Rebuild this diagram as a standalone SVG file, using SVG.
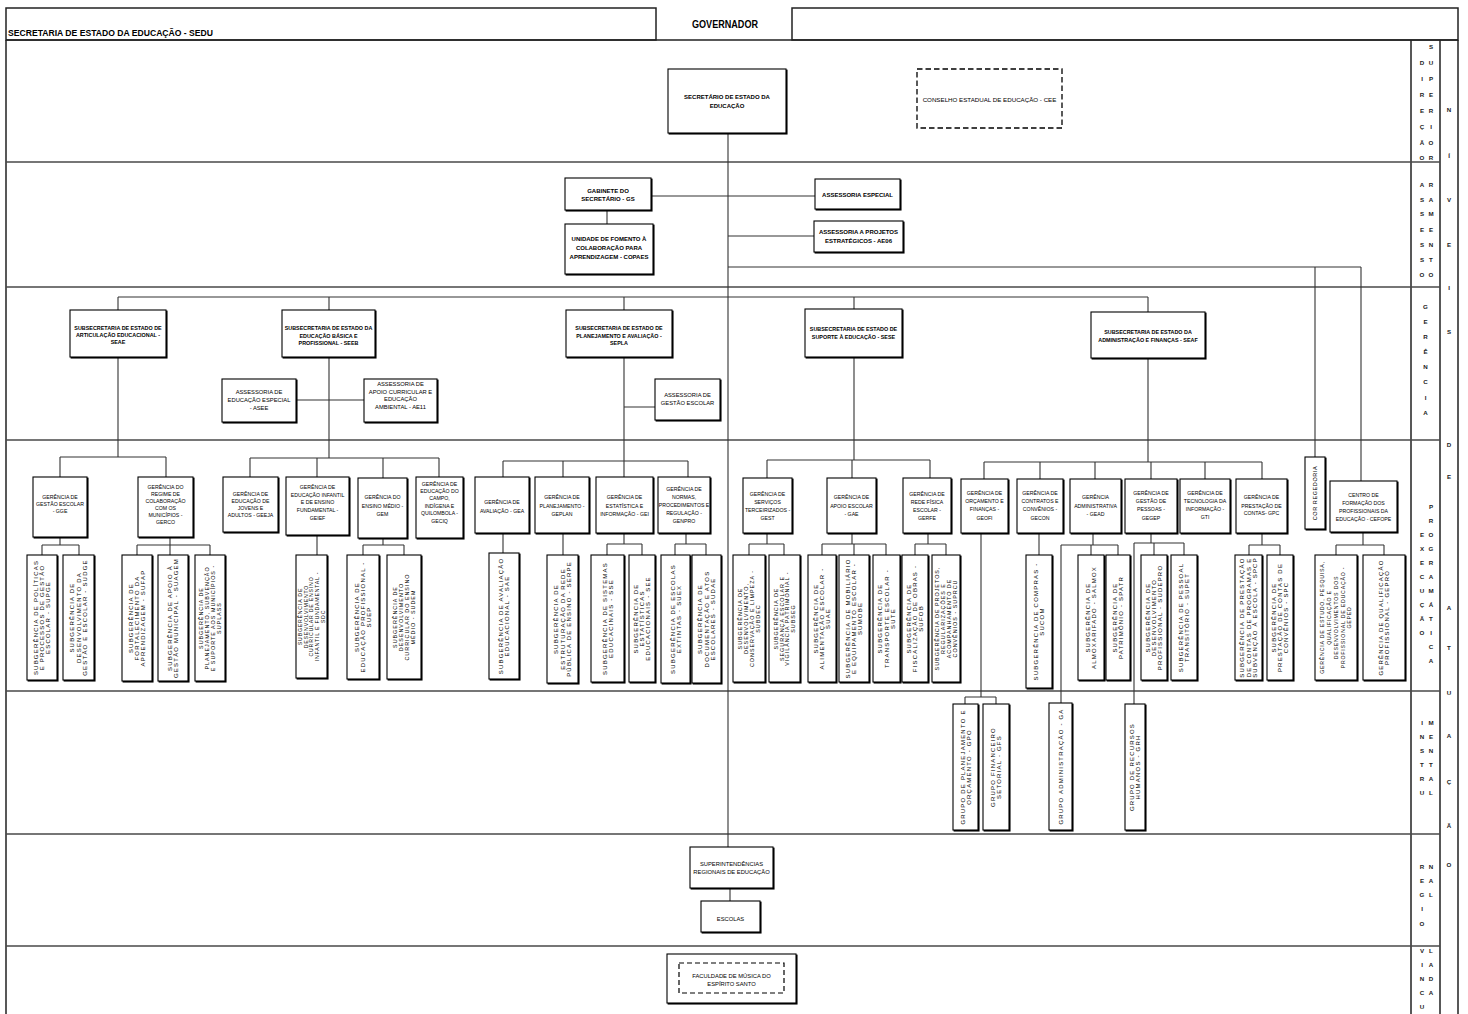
<svg xmlns="http://www.w3.org/2000/svg" width="1468" height="1014" viewBox="0 0 1468 1014">
<defs>
<filter id="sh" x="-20%" y="-20%" width="150%" height="150%"><feOffset in="SourceAlpha" dx="1.3" dy="1.3" result="o"/><feMerge><feMergeNode in="o"/><feMergeNode in="SourceGraphic"/></feMerge></filter>
<style>
.fr{fill:none;stroke:#222;stroke-width:1.5}
.bd{fill:none;stroke:#4a4a4a;stroke-width:1.6}
.c{fill:none;stroke:#333;stroke-width:1.1}
.b{fill:#fff;stroke:#000;stroke-width:1.1;filter:url(#sh)}
.d{fill:#fff;stroke:#000;stroke-width:1.3;stroke-dasharray:5.5 3}
.dn{fill:none;stroke:#000;stroke-width:1.2;stroke-dasharray:5 3}
text{font-family:"Liberation Sans",Arial,sans-serif;fill:#000}
.h{font-size:8.5px;font-weight:bold}
.g{font-size:10px;font-weight:bold}
.t1{font-size:6px;font-weight:bold;text-anchor:middle}
.t3{font-size:5.4px;font-weight:bold;text-anchor:middle}
.t4{font-size:5.2px;text-anchor:middle}
.ta{font-size:5.8px;text-anchor:middle}
.tc{font-size:6.2px;text-anchor:middle}
.v{font-size:6px;letter-spacing:1.2px;text-anchor:middle}
.v4{font-size:5.4px;letter-spacing:1px;text-anchor:middle}
.v5{font-size:5.2px;letter-spacing:0.8px;text-anchor:middle}
.vc{font-size:5.5px;letter-spacing:0.6px;text-anchor:middle}
.s{font-size:6.2px;font-weight:bold;fill:#222;text-anchor:middle}
</style>
</defs>
<rect x="0" y="0" width="1468" height="1014" fill="#fff"/>

<g id="frame">
<rect x="6" y="8" width="650" height="32" class="fr"/>
<rect x="792" y="8" width="666" height="32" class="fr"/>
<path class="fr" d="M6 40V1014M1458 40V1014M6 40H1458M1411 40V1014M1440 40V1014"/>
<path class="bd" d="M6 162H1440M6 287H1440M6 440H1440M6 691H1440M6 834H1440M6 946H1440"/>
<text x="8" y="36" class="h" textLength="205" lengthAdjust="spacingAndGlyphs">SECRETARIA DE ESTADO DA EDUCAÇÃO - SEDU</text>
</g>

<g id="n-governador"><text x="692" y="28" class="g" textLength="66" lengthAdjust="spacingAndGlyphs">GOVERNADOR</text></g>

<g id="connectors" class="c">
<path d="M728 133V847M730 888V901"/>
<path d="M651 196H815M607 210V224M728 236H814"/>
<path d="M728 267H1361M1315 267V457M1361 267V481"/>
<path d="M118 297H1148M118 297V310M329 297V310M624 297V310M854 297V309M1148 297V312"/>
<path d="M118 357V457M60 457H166M60 457V477M166 457V477"/>
<path d="M329 357V458M250 458H439M250 458V477M317 458V477M383 458V478M439 458V477M296 400H364"/>
<path d="M624 357V461M503 461H688M503 461V477M563 461V477M624 461V477M688 461V477M624 407H655"/>
<path d="M854 357V460M767 460H930M767 460V478M852 460V478M930 460V478"/>
<path d="M1148 358V462M984 462H1262M984 462V479M1040 462V479M1095 462V479M1151 462V479M1205 462V479M1262 462V479"/>
<path d="M60 537V545M42 545H79M42 545V555M79 545V555"/>
<path d="M170 537V555M137 545H210M137 545V555M210 545V555"/>
<path d="M317 535V555"/>
<path d="M383 538V545M363 545H404M363 545V555M404 545V555"/>
<path d="M503 533V553M563 533V555"/>
<path d="M624 533V544M607 544H642M607 544V555M642 544V555"/>
<path d="M686 533V544M675 544H706M675 544V555M706 544V555"/>
<path d="M767 533V544M749 544H784M749 544V555M784 544V555"/>
<path d="M852 533V544M822 544H886M822 544V555M854 544V555M886 544V555"/>
<path d="M928 533V544M915 544H946M915 544V555M946 544V555"/>
<path d="M981 533V697M965 697H996M965 697V704M996 697V704"/>
<path d="M1039 533V555"/>
<path d="M1093 533V545M1061 545H1118M1061 545V703M1091 545V555M1118 545V555"/>
<path d="M1151 533V543M1134 543H1184M1134 543V704M1154 543V555M1184 543V555"/>
<path d="M1262 533V545M1249 545H1280M1249 545V555M1280 545V555"/>
<path d="M1363 532V545M1336 545H1384M1336 545V555M1384 545V555"/>
</g>

<g id="n-secretario"><rect class="b" x="668" y="69" width="118" height="64"/><text class="t1"><tspan x="727" y="99">SECRETÁRIO DE ESTADO DA</tspan><tspan x="727" y="108">EDUCAÇÃO</tspan></text></g>
<g id="n-cee"><rect class="d" x="917" y="69" width="145" height="59"/><text class="tc" x="989.5" y="102">CONSELHO ESTADUAL DE EDUCAÇÃO - CEE</text></g>

<g id="n-gs"><rect class="b" x="565" y="178" width="86" height="32"/><text class="t1"><tspan x="608" y="192.5">GABINETE DO</tspan><tspan x="608" y="200.5">SECRETÁRIO - GS</tspan></text></g>
<g id="n-copaes"><rect class="b" x="565" y="224" width="88" height="50"/><text class="t1"><tspan x="609" y="241">UNIDADE DE FOMENTO À</tspan><tspan x="609" y="250">COLABORAÇÃO PARA</tspan><tspan x="609" y="259">APRENDIZAGEM - COPAES</tspan></text></g>
<g id="n-ae"><rect class="b" x="815" y="179" width="85" height="30"/><text class="t1" x="857.5" y="196.5">ASSESSORIA ESPECIAL</text></g>
<g id="n-ae06"><rect class="b" x="814" y="221" width="89" height="31"/><text class="t1"><tspan x="858.5" y="234">ASSESSORIA A PROJETOS</tspan><tspan x="858.5" y="243">ESTRATÉGICOS - AE06</tspan></text></g>

<g id="n-seae"><rect class="b" x="70" y="310" width="96" height="47"/><text class="t3"><tspan x="118" y="330">SUBSECRETARIA DE ESTADO DE</tspan><tspan x="118" y="337">ARTICULAÇÃO EDUCACIONAL -</tspan><tspan x="118" y="344">SEAE</tspan></text></g>
<g id="n-seeb"><rect class="b" x="282" y="310" width="93" height="47"/><text class="t3"><tspan x="328.5" y="330">SUBSECRETARIA DE ESTADO DA</tspan><tspan x="328.5" y="337.5">EDUCAÇÃO BÁSICA E</tspan><tspan x="328.5" y="345">PROFISSIONAL - SEEB</tspan></text></g>
<g id="n-sepla"><rect class="b" x="566" y="310" width="106" height="47"/><text class="t3"><tspan x="619" y="330">SUBSECRETARIA DE ESTADO DE</tspan><tspan x="619" y="337.5">PLANEJAMENTO E AVALIAÇÃO -</tspan><tspan x="619" y="345">SEPLA</tspan></text></g>
<g id="n-sese"><rect class="b" x="805" y="309" width="97" height="48"/><text class="t3"><tspan x="853.5" y="331">SUBSECRETARIA DE ESTADO DE</tspan><tspan x="853.5" y="339">SUPORTE À EDUCAÇÃO - SESE</tspan></text></g>
<g id="n-seaf"><rect class="b" x="1091" y="312" width="114" height="46"/><text class="t3"><tspan x="1148" y="334">SUBSECRETARIA DE ESTADO DA</tspan><tspan x="1148" y="342">ADMINISTRAÇÃO E FINANÇAS - SEAF</tspan></text></g>
<g id="n-asee"><rect class="b" x="222" y="379" width="74" height="43"/><text class="ta"><tspan x="259" y="394">ASSESSORIA DE</tspan><tspan x="259" y="402">EDUCAÇÃO ESPECIAL</tspan><tspan x="259" y="409.5">- ASEE</tspan></text></g>
<g id="n-ae11"><rect class="b" x="364" y="379" width="73" height="43"/><text class="ta"><tspan x="400.5" y="386">ASSESSORIA DE</tspan><tspan x="400.5" y="393.5">APOIO CURRICULAR E</tspan><tspan x="400.5" y="401">EDUCAÇÃO</tspan><tspan x="400.5" y="408.5">AMBIENTAL - AE11</tspan></text></g>
<g id="n-age"><rect class="b" x="655" y="379" width="65" height="41"/><text class="ta"><tspan x="687.5" y="397">ASSESSORIA DE</tspan><tspan x="687.5" y="405">GESTÃO ESCOLAR</tspan></text></g>

<g id="n-gge"><rect class="b" x="33" y="477" width="54" height="60"/><text class="t4"><tspan x="60" y="499">GERÊNCIA DE</tspan><tspan x="60" y="506">GESTÃO ESCOLAR</tspan><tspan x="60" y="513">- GGE</tspan></text></g>
<g id="n-gerco"><rect class="b" x="138" y="477" width="55" height="60"/><text class="t4"><tspan x="165.5" y="489">GERÊNCIA DO</tspan><tspan x="165.5" y="496">REGIME DE</tspan><tspan x="165.5" y="503">COLABORAÇÃO</tspan><tspan x="165.5" y="510">COM OS</tspan><tspan x="165.5" y="517">MUNICÍPIOS -</tspan><tspan x="165.5" y="524">GERCO</tspan></text></g>
<g id="n-geeja"><rect class="b" x="223" y="477" width="55" height="55"/><text class="t4"><tspan x="250.5" y="496">GERÊNCIA DE</tspan><tspan x="250.5" y="503">EDUCAÇÃO DE</tspan><tspan x="250.5" y="510">JOVENS E</tspan><tspan x="250.5" y="517">ADULTOS - GEEJA</tspan></text></g>
<g id="n-geief"><rect class="b" x="286" y="477" width="63" height="58"/><text class="t4"><tspan x="317.5" y="489">GERÊNCIA DE</tspan><tspan x="317.5" y="496.5">EDUCAÇÃO INFANTIL</tspan><tspan x="317.5" y="504">E DE ENSINO</tspan><tspan x="317.5" y="512">FUNDAMENTAL -</tspan><tspan x="317.5" y="520">GEIEF</tspan></text></g>
<g id="n-gem"><rect class="b" x="358" y="478" width="49" height="60"/><text class="t4"><tspan x="382.5" y="499">GERÊNCIA DO</tspan><tspan x="382.5" y="508">ENSINO MÉDIO -</tspan><tspan x="382.5" y="516">GEM</tspan></text></g>
<g id="n-geciq"><rect class="b" x="416" y="477" width="47" height="61"/><text class="t4"><tspan x="439.5" y="486">GERÊNCIA DE</tspan><tspan x="439.5" y="493">EDUCAÇÃO DO</tspan><tspan x="439.5" y="500">CAMPO,</tspan><tspan x="439.5" y="508">INDÍGENA E</tspan><tspan x="439.5" y="515">QUILOMBOLA -</tspan><tspan x="439.5" y="523">GECIQ</tspan></text></g>
<g id="n-gea"><rect class="b" x="475" y="477" width="54" height="56"/><text class="t4"><tspan x="502" y="504">GERÊNCIA DE</tspan><tspan x="502" y="513">AVALIAÇÃO - GEA</tspan></text></g>
<g id="n-geplan"><rect class="b" x="535" y="477" width="54" height="56"/><text class="t4"><tspan x="562" y="499">GERÊNCIA DE</tspan><tspan x="562" y="508">PLANEJAMENTO -</tspan><tspan x="562" y="516">GEPLAN</tspan></text></g>
<g id="n-gei"><rect class="b" x="596" y="477" width="57" height="56"/><text class="t4"><tspan x="624.5" y="499">GERÊNCIA DE</tspan><tspan x="624.5" y="508">ESTATÍSTICA E</tspan><tspan x="624.5" y="516">INFORMAÇÃO - GEI</tspan></text></g>
<g id="n-genpro"><rect class="b" x="658" y="477" width="52" height="56"/><text class="t4"><tspan x="684" y="491">GERÊNCIA DE</tspan><tspan x="684" y="499">NORMAS,</tspan><tspan x="684" y="507">PROCEDIMENTOS E</tspan><tspan x="684" y="515">REGULAÇÃO -</tspan><tspan x="684" y="523">GENPRO</tspan></text></g>
<g id="n-gest"><rect class="b" x="743" y="478" width="49" height="55"/><text class="t4"><tspan x="767.5" y="496">GERÊNCIA DE</tspan><tspan x="767.5" y="504">SERVIÇOS</tspan><tspan x="767.5" y="512">TERCEIRIZADOS -</tspan><tspan x="767.5" y="520">GEST</tspan></text></g>
<g id="n-gae"><rect class="b" x="827" y="478" width="49" height="55"/><text class="t4"><tspan x="851.5" y="499">GERÊNCIA DE</tspan><tspan x="851.5" y="508">APOIO ESCOLAR</tspan><tspan x="851.5" y="516">- GAE</tspan></text></g>
<g id="n-gerfe"><rect class="b" x="903" y="478" width="48" height="55"/><text class="t4"><tspan x="927" y="496">GERÊNCIA DE</tspan><tspan x="927" y="504">REDE FÍSICA</tspan><tspan x="927" y="512">ESCOLAR -</tspan><tspan x="927" y="520">GERFE</tspan></text></g>
<g id="n-geofi"><rect class="b" x="961" y="479" width="47" height="54"/><text class="t4"><tspan x="984.5" y="495">GERÊNCIA DE</tspan><tspan x="984.5" y="503">ORÇAMENTO E</tspan><tspan x="984.5" y="511">FINANÇAS -</tspan><tspan x="984.5" y="520">GEOFI</tspan></text></g>
<g id="n-gecon"><rect class="b" x="1017" y="479" width="46" height="54"/><text class="t4"><tspan x="1040" y="495">GERÊNCIA DE</tspan><tspan x="1040" y="503">CONTRATOS E</tspan><tspan x="1040" y="511">CONVÊNIOS -</tspan><tspan x="1040" y="520">GECON</tspan></text></g>
<g id="n-gead"><rect class="b" x="1070" y="479" width="51" height="54"/><text class="t4"><tspan x="1095.5" y="499">GERÊNCIA</tspan><tspan x="1095.5" y="508">ADMINISTRATIVA</tspan><tspan x="1095.5" y="516">- GEAD</tspan></text></g>
<g id="n-gegep"><rect class="b" x="1125" y="479" width="52" height="54"/><text class="t4"><tspan x="1151" y="495">GERÊNCIA DE</tspan><tspan x="1151" y="503">GESTÃO DE</tspan><tspan x="1151" y="511">PESSOAS -</tspan><tspan x="1151" y="520">GEGEP</tspan></text></g>
<g id="n-gti"><rect class="b" x="1180" y="479" width="50" height="54"/><text class="t4"><tspan x="1205" y="495">GERÊNCIA DE</tspan><tspan x="1205" y="503">TECNOLOGIA DA</tspan><tspan x="1205" y="511">INFORMAÇÃO -</tspan><tspan x="1205" y="519">GTI</tspan></text></g>
<g id="n-gpc"><rect class="b" x="1236" y="479" width="51" height="54"/><text class="t4"><tspan x="1261.5" y="499">GERÊNCIA DE</tspan><tspan x="1261.5" y="508">PRESTAÇÃO DE</tspan><tspan x="1261.5" y="515">CONTAS- GPC</tspan></text></g>
<g id="n-corregedoria"><rect class="b" x="1305" y="457" width="20" height="72"/><text class="vc" transform="translate(1315 493) rotate(-90)" x="0" y="2">COR REGEDORIA</text></g>
<g id="n-cefope"><rect class="b" x="1330" y="481" width="67" height="51"/><text class="t4"><tspan x="1363.5" y="497">CENTRO DE</tspan><tspan x="1363.5" y="505">FORMAÇÃO DOS</tspan><tspan x="1363.5" y="513">PROFISSIONAIS DA</tspan><tspan x="1363.5" y="521">EDUCAÇÃO - CEFOPE</tspan></text></g>

<g id="n-supge"><rect class="b" x="27" y="555" width="30" height="125"/><text class="v" transform="translate(42 617.5) rotate(-90)"><tspan x="0" y="-4.2">SUBGERÊNCIA DE POLÍTICAS</tspan><tspan x="0" y="2.1">E PROCESSOS DE GESTÃO</tspan><tspan x="0" y="8.4">ESCOLAR - SUPGE</tspan></text></g>
<g id="n-sudge"><rect class="b" x="63" y="555" width="31" height="125"/><text class="v" transform="translate(78.5 617.5) rotate(-90)"><tspan x="0" y="-4.2">SUBGERÊNCIA DE</tspan><tspan x="0" y="2.1">DESENVOLVIMENTO DA</tspan><tspan x="0" y="8.4">GESTÃO E ESCOLAR - SUDGE</tspan></text></g>
<g id="n-sufap"><rect class="b" x="122" y="555" width="30" height="126"/><text class="v" transform="translate(137 618) rotate(-90)"><tspan x="0" y="-4.2">SUBGERÊNCIA DE</tspan><tspan x="0" y="2.1">FORTALECIMENTO DA</tspan><tspan x="0" y="8.4">APRENDIZAGEM - SUFAP</tspan></text></g>
<g id="n-suagem"><rect class="b" x="158" y="555" width="30" height="126"/><text class="v" transform="translate(173 618) rotate(-90)"><tspan x="0" y="-1">SUBGERÊNCIA DE APOIO À</tspan><tspan x="0" y="5.3">GESTÃO MUNICIPAL - SUAGEM</tspan></text></g>
<g id="n-suplass"><rect class="b" x="195" y="555" width="30" height="126"/><text class="v4" transform="translate(210 618) rotate(-90)"><tspan x="0" y="-6.8">SUBGERÊNCIA DE</tspan><tspan x="0" y="-1">PLANEJAMENTO, SUBVENÇÃO</tspan><tspan x="0" y="4.8">E SUPORTE AOS MUNICÍPIOS -</tspan><tspan x="0" y="10.6">SUPLASS</tspan></text></g>
<g id="n-sdc"><rect class="b" x="296" y="555" width="31" height="123"/><text class="v5" transform="translate(311.5 616.5) rotate(-90)"><tspan x="0" y="-9.4">SUBGERÊNCIA DE</tspan><tspan x="0" y="-3.8">DESENVOLVIMENTO</tspan><tspan x="0" y="1.8">CURRICULAR DE ENSINO</tspan><tspan x="0" y="7.4">INFANTIL E FUNDAMENTAL -</tspan><tspan x="0" y="13">SDC</tspan></text></g>
<g id="n-suep"><rect class="b" x="347" y="555" width="32" height="124"/><text class="v" transform="translate(363 617) rotate(-90)"><tspan x="0" y="-4.2">SUBGERÊNCIA DE</tspan><tspan x="0" y="2.1">EDUCAÇÃO PROFISSIONAL -</tspan><tspan x="0" y="8.4">SUEP</tspan></text></g>
<g id="n-sudem"><rect class="b" x="387" y="555" width="34" height="124"/><text class="v4" transform="translate(404 617) rotate(-90)"><tspan x="0" y="-6.8">SUBGERÊNCIA DE</tspan><tspan x="0" y="-1">DESENVOLVIMENTO</tspan><tspan x="0" y="4.8">CURRICULAR DO ENSINO</tspan><tspan x="0" y="10.6">MÉDIO - SUDEM</tspan></text></g>
<g id="n-sae"><rect class="b" x="489" y="553" width="30" height="126"/><text class="v" transform="translate(504 616) rotate(-90)"><tspan x="0" y="-1">SUBGERÊNCIA DE AVALIAÇÃO</tspan><tspan x="0" y="5.3">EDUCACIONAL - SAE</tspan></text></g>
<g id="n-serpe"><rect class="b" x="547" y="555" width="31" height="128"/><text class="v" transform="translate(562.5 619) rotate(-90)"><tspan x="0" y="-4.2">SUBGERÊNCIA DE</tspan><tspan x="0" y="2.1">ESTRUTURAÇÃO DA REDE</tspan><tspan x="0" y="8.4">PÚBLICA DE ENSINO - SERPE</tspan></text></g>
<g id="n-sse"><rect class="b" x="591" y="555" width="33" height="127"/><text class="v" transform="translate(607.5 618.5) rotate(-90)"><tspan x="0" y="-1">SUBGERÊNCIA DE SISTEMAS</tspan><tspan x="0" y="5.3">EDUCACINAIS - SSE</tspan></text></g>
<g id="n-see"><rect class="b" x="629" y="555" width="26" height="127"/><text class="v" transform="translate(642 618.5) rotate(-90)"><tspan x="0" y="-4.2">SUBGERÊNCIA DE</tspan><tspan x="0" y="2.1">ESTATÍSTICAS</tspan><tspan x="0" y="8.4">EDUCACIONAIS - SEE</tspan></text></g>
<g id="n-suex"><rect class="b" x="661" y="555" width="29" height="128"/><text class="v" transform="translate(675.5 619) rotate(-90)"><tspan x="0" y="-1">SUBGERÊNCIA DE ESCOLAS</tspan><tspan x="0" y="5.3">EXTINTAS - SUEX</tspan></text></g>
<g id="n-sudae"><rect class="b" x="692" y="555" width="29" height="128"/><text class="v" transform="translate(706.5 619) rotate(-90)"><tspan x="0" y="-4.2">SUBGERÊNCIA DE</tspan><tspan x="0" y="2.1">DOCUMENTAÇÃO E ATOS</tspan><tspan x="0" y="8.4">ESCOLARES - SUDAE</tspan></text></g>
<g id="n-subdec"><rect class="b" x="733" y="555" width="32" height="127"/><text class="v4" transform="translate(749 618.5) rotate(-90)"><tspan x="0" y="-6.8">SUBGERÊNCIA DE</tspan><tspan x="0" y="-1">DESENVOLVIMENTO,</tspan><tspan x="0" y="4.8">CONSERVAÇÃO E LIMPEZA -</tspan><tspan x="0" y="10.6">SUBDEC</tspan></text></g>
<g id="n-subseg"><rect class="b" x="769" y="555" width="31" height="127"/><text class="v4" transform="translate(784.5 618.5) rotate(-90)"><tspan x="0" y="-6.8">SUBGERÊNCIA DE</tspan><tspan x="0" y="-1">SEGURANÇA ESCOLAR E</tspan><tspan x="0" y="4.8">VIGILÂNCIA PATRIMONIAL -</tspan><tspan x="0" y="10.6">SUBSEG</tspan></text></g>
<g id="n-suae"><rect class="b" x="808" y="555" width="28" height="127"/><text class="v" transform="translate(822 618.5) rotate(-90)"><tspan x="0" y="-4.2">SUBGERÊNCIA DE</tspan><tspan x="0" y="2.1">ALIMENTAÇÃO ESCOLAR -</tspan><tspan x="0" y="8.4">SUAE</tspan></text></g>
<g id="n-sumobe"><rect class="b" x="839" y="555" width="30" height="127"/><text class="v" transform="translate(854 618.5) rotate(-90)"><tspan x="0" y="-4.2">SUBGERÊNCIA DE MOBILIÁRIO</tspan><tspan x="0" y="2.1">E EQUIPAMENTO ESCOLAR -</tspan><tspan x="0" y="8.4">SUMOBE</tspan></text></g>
<g id="n-sute"><rect class="b" x="873" y="555" width="27" height="127"/><text class="v" transform="translate(886.5 618.5) rotate(-90)"><tspan x="0" y="-4.2">SUBGERÊNCIA DE</tspan><tspan x="0" y="2.1">TRANSPORTE ESCOLAR -</tspan><tspan x="0" y="8.4">SUTE</tspan></text></g>
<g id="n-sufob"><rect class="b" x="902" y="555" width="26" height="127"/><text class="v" transform="translate(915 618.5) rotate(-90)"><tspan x="0" y="-4.2">SUBGERÊNCIA DE</tspan><tspan x="0" y="2.1">FISCALIZAÇÃO DE OBRAS -</tspan><tspan x="0" y="8.4">SUFOB</tspan></text></g>
<g id="n-suprcu"><rect class="b" x="932" y="555" width="28" height="127"/><text class="v4" transform="translate(946 618.5) rotate(-90)"><tspan x="0" y="-6.8">SUBGERÊNCIA DE PROJETOS,</tspan><tspan x="0" y="-1">REGULARIZAÇÕES E</tspan><tspan x="0" y="4.8">ACOMPANHAMENTO DE</tspan><tspan x="0" y="10.6">CONVÊNIOS - SUPRCU</tspan></text></g>
<g id="n-sucom"><rect class="b" x="1026" y="555" width="26" height="133"/><text class="v" transform="translate(1039 621.5) rotate(-90)"><tspan x="0" y="-1">SUBGERÊNCIA DE COMPRAS -</tspan><tspan x="0" y="5.3">SUCOM</tspan></text></g>
<g id="n-salmox"><rect class="b" x="1078" y="555" width="26" height="125"/><text class="v" transform="translate(1091 617.5) rotate(-90)"><tspan x="0" y="-1">SUBGERÊNCIA DE</tspan><tspan x="0" y="5.3">ALMOXARIFADO - SALMOX</tspan></text></g>
<g id="n-spatr"><rect class="b" x="1106" y="555" width="24" height="125"/><text class="v" transform="translate(1118 617.5) rotate(-90)"><tspan x="0" y="-1">SUBGERÊNCIA DE</tspan><tspan x="0" y="5.3">PATRIMÔNIO - SPATR</tspan></text></g>
<g id="n-sudepro"><rect class="b" x="1141" y="555" width="26" height="125"/><text class="v" transform="translate(1154 617.5) rotate(-90)"><tspan x="0" y="-4.2">SUBGERÊNCIA DE</tspan><tspan x="0" y="2.1">DESENVOLVIMENTO</tspan><tspan x="0" y="8.4">PROFISSIONAL - SUDEPRO</tspan></text></g>
<g id="n-supet"><rect class="b" x="1171" y="555" width="26" height="125"/><text class="v" transform="translate(1184 617.5) rotate(-90)"><tspan x="0" y="-1">SUBGERÊNCIA DE PESSOAL</tspan><tspan x="0" y="5.3">TRANSITÓRIO - SUPET</tspan></text></g>
<g id="n-spcp"><rect class="b" x="1235" y="555" width="27" height="125"/><text class="v" transform="translate(1248.5 617.5) rotate(-90)"><tspan x="0" y="-4.2">SUBGERÊNCIA DE PRESTAÇÃO</tspan><tspan x="0" y="2.1">DE CONTAS DE PROGRAMAS E</tspan><tspan x="0" y="8.4">SUBVENÇÃO À ESCOLA - SPCP</tspan></text></g>
<g id="n-spc"><rect class="b" x="1267" y="555" width="26" height="125"/><text class="v" transform="translate(1280 617.5) rotate(-90)"><tspan x="0" y="-4.2">SUBGERÊNCIA DE</tspan><tspan x="0" y="2.1">PRESTAÇÃO DE CONTAS DE</tspan><tspan x="0" y="8.4">CONVÊNIOS - SPC</tspan></text></g>
<g id="n-geped"><rect class="b" x="1315" y="555" width="42" height="125"/><text class="v5" transform="translate(1336 617.5) rotate(-90)"><tspan x="0" y="-11.8">GERÊNCIA DE ESTUDO, PESQUISA,</tspan><tspan x="0" y="-5">QUALIFICAÇÃO E</tspan><tspan x="0" y="1.8">DESENVOLVIMENTOS DOS</tspan><tspan x="0" y="8.6">PROFISSIONAL DE EDUCAÇÃO -</tspan><tspan x="0" y="15.4">GEPED</tspan></text></g>
<g id="n-gepro"><rect class="b" x="1363" y="555" width="42" height="125"/><text class="v" transform="translate(1384 617.5) rotate(-90)"><tspan x="0" y="-1">GERÊNCIA DE QUALIFICAÇÃO</tspan><tspan x="0" y="5.3">PROFISSIONAL - GEPRO</tspan></text></g>

<g id="n-gpo"><rect class="b" x="953" y="704" width="25" height="126"/><text class="v" transform="translate(965.5 767) rotate(-90)"><tspan x="0" y="-1">GRUPO DE PLANEJAMENTO E</tspan><tspan x="0" y="5.3">ORÇAMENTO - GPO</tspan></text></g>
<g id="n-gfs"><rect class="b" x="983" y="704" width="26" height="126"/><text class="v" transform="translate(996 767) rotate(-90)"><tspan x="0" y="-1">GRUPO FINANCEIRO</tspan><tspan x="0" y="5.3">SETORIAL - GFS</tspan></text></g>
<g id="n-ga"><rect class="b" x="1049" y="703" width="23" height="127"/><text class="v" transform="translate(1060.5 766.5) rotate(-90)" x="0" y="2.2">GRUPO ADMINISTRAÇÃO - GA</text></g>
<g id="n-grh"><rect class="b" x="1125" y="704" width="20" height="126"/><text class="v" transform="translate(1135 767) rotate(-90)"><tspan x="0" y="-1">GRUPO DE RECURSOS</tspan><tspan x="0" y="5.3">HUMANOS - GRH</tspan></text></g>

<g id="n-sre"><rect class="b" x="690" y="847" width="83" height="41"/><text class="ta"><tspan x="731.5" y="866">SUPERINTENDÊNCIAS</tspan><tspan x="731.5" y="874">REGIONAIS DE EDUCAÇÃO</tspan></text></g>
<g id="n-escolas"><rect class="b" x="701" y="901" width="59" height="31"/><text class="ta" x="730.5" y="921">ESCOLAS</text></g>
<g id="n-fames"><rect class="b" x="667" y="954" width="129" height="49"/><rect class="dn" x="679" y="963" width="105" height="30"/><text class="ta"><tspan x="731.5" y="978">FACULDADE DE MÚSICA DO</tspan><tspan x="731.5" y="986">ESPÍRITO SANTO</tspan></text></g>

<g id="sidebar">
<text class="s" x="1431" y="49.2">S</text>
<text class="s" x="1422" y="65.2">D</text><text class="s" x="1431" y="65.2">U</text>
<text class="s" x="1422" y="81.2">I</text><text class="s" x="1431" y="81.2">P</text>
<text class="s" x="1422" y="97.2">R</text><text class="s" x="1431" y="97.2">E</text>
<text class="s" x="1422" y="113.2">E</text><text class="s" x="1431" y="113.2">R</text>
<text class="s" x="1422" y="129.2">Ç</text><text class="s" x="1431" y="129.2">I</text>
<text class="s" x="1422" y="145.2">Ã</text><text class="s" x="1431" y="145.2">O</text>
<text class="s" x="1422" y="159.5">O</text><text class="s" x="1431" y="159.5">R</text>
<text class="s" x="1422" y="187.2">A</text><text class="s" x="1431" y="187.2">R</text>
<text class="s" x="1422" y="202.2">S</text><text class="s" x="1431" y="202.2">A</text>
<text class="s" x="1422" y="216.2">S</text><text class="s" x="1431" y="216.2">M</text>
<text class="s" x="1422" y="232.2">E</text><text class="s" x="1431" y="232.2">E</text>
<text class="s" x="1422" y="247.2">S</text><text class="s" x="1431" y="247.2">N</text>
<text class="s" x="1422" y="262.2">S</text><text class="s" x="1431" y="262.2">T</text>
<text class="s" x="1422" y="277.2">O</text><text class="s" x="1431" y="277.2">O</text>
<text class="s" x="1425.5" y="309.2">G</text>
<text class="s" x="1425.5" y="324.2">E</text>
<text class="s" x="1425.5" y="339.2">R</text>
<text class="s" x="1425.5" y="354.2">Ê</text>
<text class="s" x="1425.5" y="369.2">N</text>
<text class="s" x="1425.5" y="384.2">C</text>
<text class="s" x="1425.5" y="400.2">I</text>
<text class="s" x="1425.5" y="415.2">A</text>
<text class="s" x="1431" y="509.2">P</text>
<text class="s" x="1431" y="523.2">R</text>
<text class="s" x="1422" y="537.2">E</text><text class="s" x="1431" y="537.2">O</text>
<text class="s" x="1422" y="551.2">X</text><text class="s" x="1431" y="551.2">G</text>
<text class="s" x="1422" y="565.2">E</text><text class="s" x="1431" y="565.2">R</text>
<text class="s" x="1422" y="579.2">C</text><text class="s" x="1431" y="579.2">A</text>
<text class="s" x="1422" y="593.2">U</text><text class="s" x="1431" y="593.2">M</text>
<text class="s" x="1422" y="607.2">Ç</text><text class="s" x="1431" y="607.2">Á</text>
<text class="s" x="1422" y="621.2">Ã</text><text class="s" x="1431" y="621.2">T</text>
<text class="s" x="1422" y="635.2">O</text><text class="s" x="1431" y="635.2">I</text>
<text class="s" x="1431" y="649.2">C</text>
<text class="s" x="1431" y="663.2">A</text>
<text class="s" x="1422" y="725.2">I</text><text class="s" x="1431" y="725.2">M</text>
<text class="s" x="1422" y="739.2">N</text><text class="s" x="1431" y="739.2">E</text>
<text class="s" x="1422" y="753.2">S</text><text class="s" x="1431" y="753.2">N</text>
<text class="s" x="1422" y="767.2">T</text><text class="s" x="1431" y="767.2">T</text>
<text class="s" x="1422" y="781.2">R</text><text class="s" x="1431" y="781.2">A</text>
<text class="s" x="1422" y="795.2">U</text><text class="s" x="1431" y="795.2">L</text>
<text class="s" x="1422" y="869.2">R</text><text class="s" x="1431" y="869.2">N</text>
<text class="s" x="1422" y="883.2">E</text><text class="s" x="1431" y="883.2">A</text>
<text class="s" x="1422" y="897.2">G</text><text class="s" x="1431" y="897.2">L</text>
<text class="s" x="1422" y="911.2">I</text>
<text class="s" x="1422" y="926.2">O</text>
<text class="s" x="1422" y="953.2">V</text><text class="s" x="1431" y="953.2">L</text>
<text class="s" x="1422" y="967.2">I</text><text class="s" x="1431" y="967.2">A</text>
<text class="s" x="1422" y="981.2">N</text><text class="s" x="1431" y="981.2">D</text>
<text class="s" x="1422" y="995.2">C</text><text class="s" x="1431" y="995.2">A</text>
<text class="s" x="1422" y="1009.2">U</text>
<text class="s" x="1449" y="112.2">N</text>
<text class="s" x="1449" y="158.2">Í</text>
<text class="s" x="1449" y="202.2">V</text>
<text class="s" x="1449" y="247.2">E</text>
<text class="s" x="1449" y="290.2">I</text>
<text class="s" x="1449" y="334.2">S</text>
<text class="s" x="1449" y="447.2">D</text>
<text class="s" x="1449" y="479.2">E</text>
<text class="s" x="1449" y="610.2">A</text>
<text class="s" x="1449" y="650.2">T</text>
<text class="s" x="1449" y="695.2">U</text>
<text class="s" x="1449" y="738.2">A</text>
<text class="s" x="1449" y="784.2">Ç</text>
<text class="s" x="1449" y="828.2">Ã</text>
<text class="s" x="1449" y="867.2">O</text>
</g>
</svg>
